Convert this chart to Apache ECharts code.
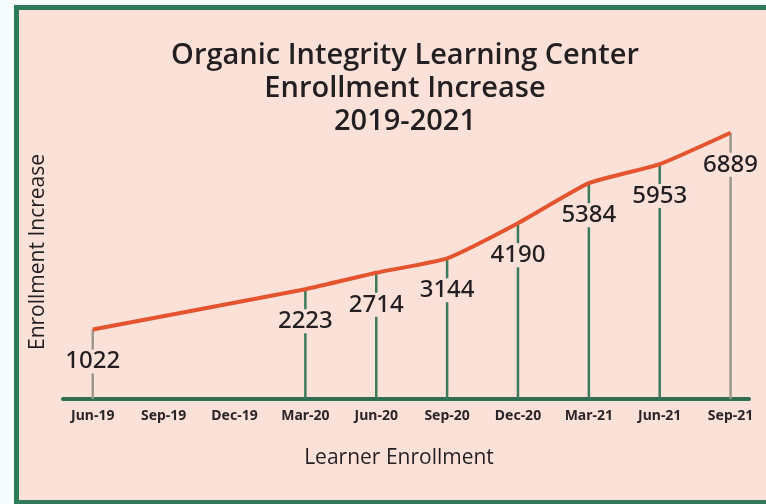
<!DOCTYPE html>
<html>
<head>
<meta charset="utf-8">
<script src="https://cdn.jsdelivr.net/npm/echarts@6/dist/echarts.min.js"></script>
<style>
  html, body { margin: 0; padding: 0; background: #f6fbfb; }
  #frame { position: absolute; left: 14px; top: 5px; width: 770px; height: 490px;
           background: #fce1d9; border: 5px solid #2f7b59; }
  #chart { position: absolute; left: 0; top: 0; width: 766px; height: 504px; }
</style>
</head>
<body>
<div id="frame"></div>
<div id="chart"></div>
<script>
const titleLines = ['Organic Integrity Learning Center', 'Enrollment Increase', '2019-2021'];
const categories = ['Jun-19', 'Sep-19', 'Dec-19', 'Mar-20', 'Jun-20', 'Sep-20', 'Dec-20', 'Mar-21', 'Jun-21', 'Sep-21'];
const enrollment = [1022, null, null, 2223, 2714, 3144, 4190, 5384, 5953, 6889];
const xName = 'Learner Enrollment';
const yName = 'Enrollment Increase';

const Y_MIN = -1050, Y_MAX = 7000;
const points = categories.map((c, i) => [i, enrollment[i]]).filter(d => d[1] != null);
const lastIdx = categories.length - 1;

const chart = echarts.init(document.getElementById('chart'), null, { renderer: 'canvas' });
chart.setOption({
  backgroundColor: 'transparent',
  animation: false,
  title: {
    text: titleLines.join('\n'),
    left: 400,
    textAlign: 'center',
    top: 34,
    textStyle: { fontFamily: 'Open Sans', fontWeight: 600, fontSize: 29, lineHeight: 33, color: '#231f20' }
  },
  grid: { left: 63, right: 17, top: 129, bottom: 105, containLabel: false },
  xAxis: {
    type: 'value',
    min: -0.42,
    max: 9.26,
    name: xName,
    nameLocation: 'middle',
    nameGap: 49,
    nameTextStyle: { fontFamily: 'Open Sans', fontWeight: 500, fontSize: 21, color: '#231f20', padding: [0, 14, 0, 0] },
    axisLine: { show: true, onZero: false, lineStyle: { color: '#2f6f50', width: 4 } },
    axisTick: { show: false },
    splitLine: { show: false },
    axisLabel: {
      customValues: categories.map((c, i) => i),
      formatter: v => categories[Math.round(v)],
      margin: 10,
      fontFamily: 'Noto Sans', fontWeight: 'bold', fontSize: 14, color: '#2a2526'
    }
  },
  yAxis: {
    type: 'value',
    min: Y_MIN,
    max: Y_MAX,
    name: yName,
    nameLocation: 'middle',
    nameRotate: 90,
    nameGap: 14,
    nameTextStyle: { fontFamily: 'Open Sans', fontWeight: 500, fontSize: 21, color: '#231f20', padding: [0, 0, 0, 24] },
    axisLine: { show: false },
    axisTick: { show: false },
    axisLabel: { show: false },
    splitLine: { show: false }
  },
  series: [
    {
      type: 'custom',
      z: 1,
      data: points,
      renderItem: function (params, api) {
        const idx = api.value(0);
        const top = api.coord([idx, api.value(1)]);
        const bot = api.coord([idx, Y_MIN]);
        const edge = idx === 0 || idx === lastIdx;
        return {
          type: 'line',
          shape: { x1: top[0], y1: top[1], x2: bot[0], y2: bot[1] },
          style: { stroke: edge ? '#9c988c' : '#3b7b5b', lineWidth: 2.5 }
        };
      }
    },
    {
      type: 'line',
      z: 3,
      data: points,
      smooth: 0.15,
      symbol: 'circle',
      symbolSize: 2,
      showSymbol: true,
      itemStyle: { color: 'rgba(228,85,47,0)' },
      lineStyle: { color: '#e4552f', width: 4 },
      label: {
        show: true,
        position: 'bottom',
        distance: 19,
        formatter: p => String(p.value[1]),
        fontFamily: 'Noto Sans', fontWeight: 500, fontSize: 24, color: '#231f20',
        backgroundColor: '#fce1d9', padding: [0, 1]
      }
    }
  ]
});
</script>
</body>
</html>
